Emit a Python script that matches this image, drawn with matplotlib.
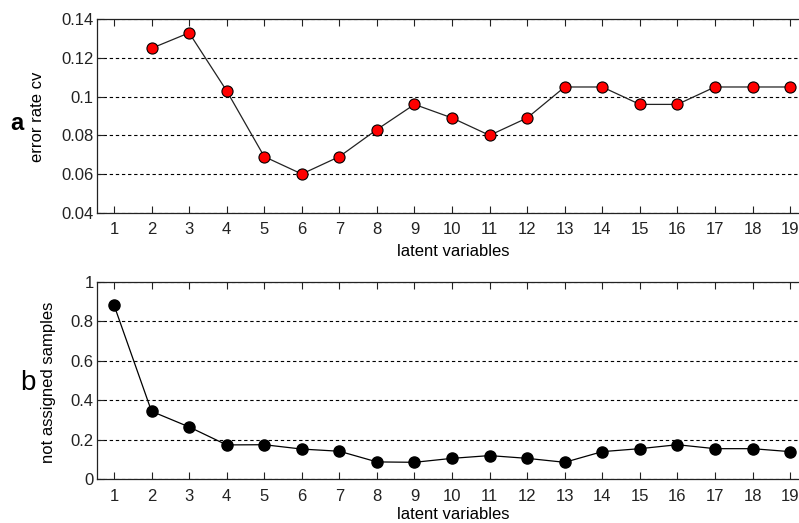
import matplotlib.pyplot as plt

plt.rcParams['font.family'] = ['Liberation Sans', 'DejaVu Sans']

# latent variables on the x axis
lv_err = list(range(2, 20))
lv_na = list(range(1, 20))

# panel a: cross-validated error rate
err_cv = [0.125, 0.133, 0.103, 0.069, 0.060, 0.069, 0.083, 0.096, 0.089,
          0.080, 0.089, 0.105, 0.105, 0.096, 0.096, 0.105, 0.105, 0.105]

# panel b: fraction of not assigned samples
not_assigned = [0.882, 0.344, 0.265, 0.174, 0.175, 0.153, 0.142, 0.088, 0.086,
                0.106, 0.120, 0.106, 0.086, 0.140, 0.155, 0.175, 0.155, 0.155, 0.140]

xticks = list(range(1, 20))
yticks_a = [0.04, 0.06, 0.08, 0.1, 0.12, 0.14]
ylabels_a = ['0.04', '0.06', '0.08', '0.1', '0.12', '0.14']
yticks_b = [0, 0.2, 0.4, 0.6, 0.8, 1]
ylabels_b = ['0', '0.2', '0.4', '0.6', '0.8', '1']

W, H = 799, 523
fig = plt.figure(figsize=(W / 100, H / 100), dpi=100)

x0 = 1 - 17 / 37.56
x1 = 19.5
ax_w = (x1 - x0) * 37.56

ax1 = fig.add_axes([97 / W, (H - 212.7) / H, ax_w / W, 193.4 / H])
ax2 = fig.add_axes([97 / W, (H - 479.3) / H, ax_w / W, 197.6 / H])


def style(ax, yticks, ylabels, xpad):
    ax.set_xlim(x0, x1)
    ax.set_xticks(xticks)
    ax.set_xticklabels([str(v) for v in xticks])
    ax.set_ylim(yticks[0], yticks[-1])
    ax.set_yticks(yticks)
    ax.set_yticklabels(ylabels)
    ax.tick_params(direction='in', length=5, width=0.8, labelsize=12,
                   top=True, right=True, colors='#222222')
    ax.tick_params(axis='y', pad=2.5)
    ax.tick_params(axis='x', pad=7)
    for s in ax.spines.values():
        s.set_linewidth(0.9)
        s.set_color('#222222')
    ax.yaxis.grid(True, color='black', linestyle=(0, (3, 2.5)), linewidth=0.8)
    ax.set_axisbelow(True)
    ax.set_xlabel('latent variables', fontsize=12, labelpad=xpad)


ax1.plot(lv_err, err_cv, color='#222222', lw=0.9, marker='o', markersize=8,
         markerfacecolor='#ff0000', markeredgecolor='black', markeredgewidth=0.8)
style(ax1, yticks_a, ylabels_a, 5)

ax2.plot(lv_na, not_assigned, color='black', lw=0.9, marker='o', markersize=8,
         markerfacecolor='black', markeredgecolor='black')
style(ax2, yticks_b, ylabels_b, 2)

# axis titles placed like the original layout
fig.text(37 / W, 1 - 117 / H, 'error rate cv', fontsize=12, rotation=90,
         ha='center', va='center')
fig.text(49 / W, 1 - 382 / H, 'not assigned samples', fontsize=12, rotation=90,
         ha='center', va='center')
fig.text(17 / W, 1 - 123 / H, 'a', fontsize=17, fontweight='bold',
         ha='center', va='center')
fig.text(28 / W, 1 - 383 / H, 'b', fontsize=20, ha='center', va='center')

fig.savefig('out.png', dpi=100)
